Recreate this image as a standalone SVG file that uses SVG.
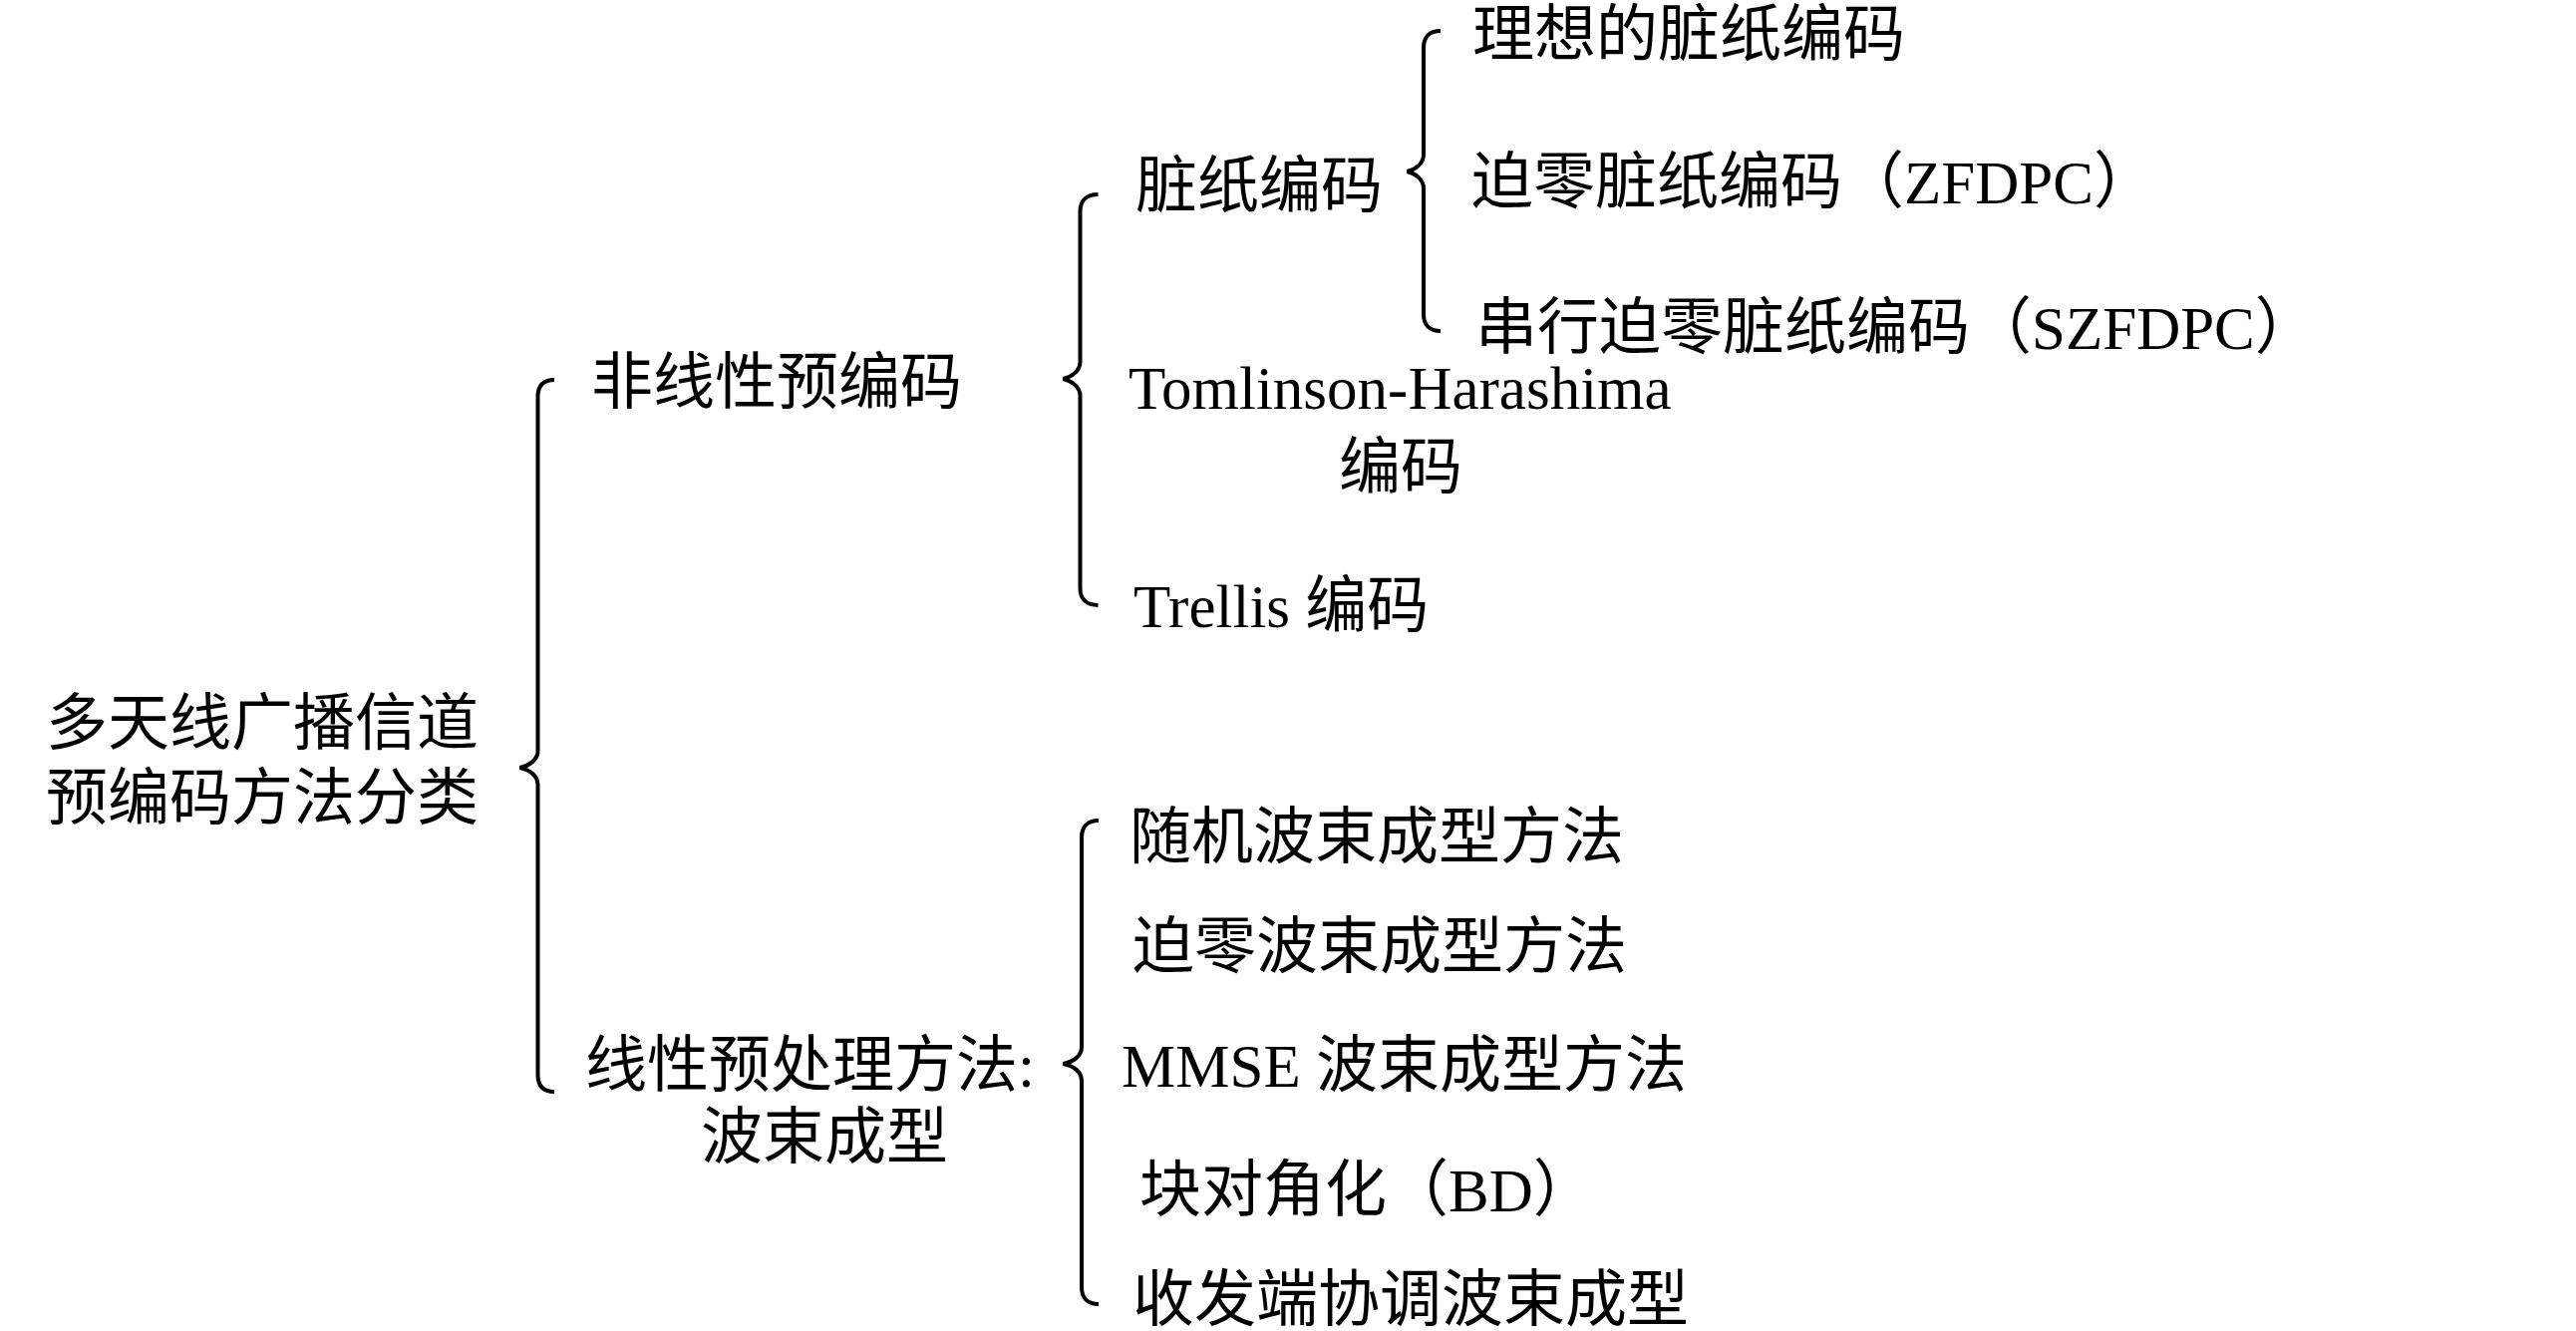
<svg xmlns="http://www.w3.org/2000/svg" width="2584" height="1335" viewBox="0 0 2584 1335">
<style>
text{font-family:"Liberation Serif","Noto Sans CJK SC",serif;font-size:62px;fill:#000}
.lat{font-size:61px}
.brace{fill:none;stroke:#000;stroke-width:4}
</style>
<rect width="2584" height="1335" fill="#fff"/>
<g id="connectors">
<path class="brace" d="M556,381 C545,381 539.5,387 539.5,398 L539.5,753 C539.5,762 531,768 521.5,770 C531,772 539.5,778 539.5,787 L539.5,1078 C539.5,1089 545,1095 556,1095"/>
<path class="brace" d="M1101.5,195 C1090,195 1083.5,201 1083.5,212 L1083.5,363 C1083.5,372 1075,378 1066.5,380 C1075,382 1083.5,388 1083.5,397 L1083.5,590 C1083.5,601 1090,607 1101.5,607"/>
<path class="brace" d="M1445,31 C1434,31 1428,37 1428,48 L1428,155 C1428,164 1420,170 1411.5,172 C1420,174 1428,180 1428,189 L1428,315 C1428,326 1434,332 1445,332"/>
<path class="brace" d="M1102,823 C1091,823 1085,829 1085,840 L1085,1050 C1085,1059 1077,1065 1066.5,1067 C1077,1069 1085,1075 1085,1084 L1085,1291 C1085,1302 1091,1308 1102,1308"/>
</g>
<g id="root">
<text x="46" y="747">多天线广播信道</text>
<text x="46" y="822">预编码方法分类</text>
</g>
<g id="nonlinear">
<text x="593" y="405">非线性预编码</text>
</g>
<g id="linear">
<text x="587" y="1090">线性预处理方法<tspan class="lat">:</tspan></text>
<text x="703" y="1162">波束成型</text>
</g>
<g id="dpc">
<text x="1139" y="208">脏纸编码</text>
</g>
<g id="thp">
<text x="1132" y="410" class="lat">Tomlinson-Harashima</text>
<text x="1343" y="490">编码</text>
</g>
<g id="trellis">
<text x="1137" y="629"><tspan class="lat">Trellis </tspan>编码</text>
</g>
<g id="ideal-dpc">
<text x="1477" y="56">理想的脏纸编码</text>
</g>
<g id="zfdpc">
<text x="1476" y="204">迫零脏纸编码（<tspan class="lat">ZFDPC</tspan>）</text>
</g>
<g id="szfdpc">
<text x="1480" y="350">串行迫零脏纸编码（<tspan class="lat">SZFDPC</tspan>）</text>
</g>
<g id="random-bf">
<text x="1133" y="861">随机波束成型方法</text>
</g>
<g id="zf-bf">
<text x="1136" y="971">迫零波束成型方法</text>
</g>
<g id="mmse-bf">
<text x="1125" y="1090"><tspan class="lat">MMSE </tspan>波束成型方法</text>
</g>
<g id="bd">
<text x="1143" y="1215">块对角化（<tspan class="lat">BD</tspan>）</text>
</g>
<g id="coord-bf">
<text x="1136" y="1325">收发端协调波束成型</text>
</g>
</svg>
